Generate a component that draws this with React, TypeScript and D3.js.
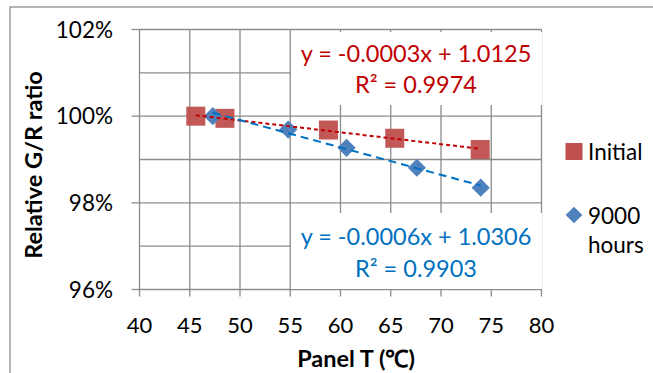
import React from 'react';
import * as d3 from 'd3';

// panel temperature (°C) and relative G/R ratio
const initialTemps = [45.6, 48.5, 58.8, 65.4, 73.9];
const initialRatios = [1.0, 0.9995, 0.9968, 0.9949, 0.9923];
const hoursTemps = [47.3, 54.8, 60.6, 67.6, 73.95];
const hoursRatios = [1.0, 0.9969, 0.9927, 0.9881, 0.9835];

const xTicks = [40, 45, 50, 55, 60, 65, 70, 75, 80];
const yMajorTicks = [0.96, 0.98, 1.0, 1.02];
const yGridTicks = [0.96, 0.97, 0.98, 0.99, 1.0, 1.01, 1.02];

const initialEquation = ['y = -0.0003x + 1.0125', 'R² = 0.9974'];
const hoursEquation = ['y = -0.0006x + 1.0306', 'R² = 0.9903'];

const FONT = 'Lato, "Open Sans", sans-serif';
const GRID = '#8c8c8c';
const RED_MARK = '#c0504d';
const BLUE_MARK = '#4f81bd';
const RED_LINE = '#c00000';
const BLUE_LINE = '#0070c0';

// least squares fit, same as excel's linear trendline
function fit(xs: number[], ys: number[]) {
  const mx = d3.mean(xs) as number;
  const my = d3.mean(ys) as number;
  let num = 0;
  let den = 0;
  xs.forEach((x, i) => {
    num += (x - mx) * (ys[i] - my);
    den += (x - mx) * (x - mx);
  });
  const slope = num / den;
  return { slope, intercept: my - slope * mx };
}

export default function App() {
  const width = 653;
  const height = 373;
  const left = 139.5;
  const right = 541.5;
  const top = 29.5;
  const bottom = 289.5;

  const x = d3.scaleLinear().domain([40, 80]).range([left, right]);
  const y = d3.scaleLinear().domain([0.96, 1.02]).range([bottom, top]);

  const line = d3.line<[number, number]>()
    .x(d => x(d[0]))
    .y(d => y(d[1]));

  const trend = (xs: number[], ys: number[]) => {
    const { slope, intercept } = fit(xs, ys);
    const [x0, x1] = d3.extent(xs) as [number, number];
    return line([[x0, intercept + slope * x0], [x1, intercept + slope * x1]]) as string;
  };

  const diamond = d3.symbol().type(d3.symbolSquare).size(165)() as string;

  return (
    <svg
      width={width}
      height={height}
      style={{ position: 'absolute', left: 0, top: 0, background: '#fff' }}
      fontFamily={FONT}
    >
      <rect x={10} y={7} width={660} height={380} fill="#fff" stroke={GRID} strokeWidth={1.3} />

      {/* grid */}
      {yGridTicks.map(t => (
        <line key={`gy${t}`} x1={left} x2={right} y1={y(t)} y2={y(t)} stroke={GRID} strokeWidth={1.3} />
      ))}
      {xTicks.map(t => (
        <line key={`gx${t}`} x1={x(t)} x2={x(t)} y1={top} y2={bottom + 7} stroke={GRID} strokeWidth={1.3} />
      ))}
      {yMajorTicks.map(t => (
        <line key={`ty${t}`} x1={left - 8} x2={left} y1={y(t)} y2={y(t)} stroke={GRID} strokeWidth={1.3} />
      ))}

      {/* equation boxes cover the grid */}
      <rect x={291} y={32} width={251} height={73} fill="#fff" />
      <rect x={291} y={213} width={251} height={76} fill="#fff" />

      {/* tick labels */}
      {yMajorTicks.map(t => (
        <text key={`ly${t}`} x={113} y={y(t) + 8} textAnchor="end" fontSize={22.5} fill="#000">
          {`${Math.round(t * 100)}%`}
        </text>
      ))}
      {xTicks.map(t => (
        <text key={`lx${t}`} x={x(t)} y={333} textAnchor="middle" fontSize={22} fill="#000">
          {t}
        </text>
      ))}

      {/* axis titles */}
      <text x={356} y={366.5} textAnchor="middle" fontSize={23.5} fontWeight="bold" fill="#000">
        Panel T (℃)
      </text>
      <text
        transform="translate(41.5,165) rotate(-90)"
        textAnchor="middle"
        fontSize={23.5}
        fontWeight="bold"
        fill="#000"
      >
        Relative G/R ratio
      </text>

      {/* markers */}
      {initialTemps.map((t, i) => (
        <rect
          key={`i${i}`}
          x={x(t) - 9.5}
          y={y(initialRatios[i]) - 9.5}
          width={19}
          height={19}
          fill={RED_MARK}
          fillOpacity={0.95}
        />
      ))}
      {hoursTemps.map((t, i) => (
        <path
          key={`h${i}`}
          d={diamond}
          transform={`translate(${x(t)},${y(hoursRatios[i])}) rotate(45)`}
          fill={BLUE_MARK}
        />
      ))}

      {/* trendlines */}
      <path d={trend(initialTemps, initialRatios)} fill="none" stroke={RED_LINE} strokeWidth={2} strokeDasharray="4 3" />
      <path d={trend(hoursTemps, hoursRatios)} fill="none" stroke={BLUE_LINE} strokeWidth={2} strokeDasharray="8 5" />

      {/* equations */}
      {initialEquation.map((s, i) => (
        <text key={`ei${i}`} x={416} y={62 + i * 30.5} textAnchor="middle" fontSize={23.5} fill={RED_LINE}>
          {s}
        </text>
      ))}
      {hoursEquation.map((s, i) => (
        <text key={`eh${i}`} x={416} y={245 + i * 31.5} textAnchor="middle" fontSize={23.5} fill={BLUE_LINE}>
          {s}
        </text>
      ))}

      {/* legend */}
      <rect x={565.5} y={143} width={17} height={17} fill={RED_MARK} />
      <text x={588} y={159.5} fontSize={22.5} fill="#000">Initial</text>
      <path
        d={d3.symbol().type(d3.symbolSquare).size(140)() as string}
        transform="translate(574,215) rotate(45)"
        fill={BLUE_MARK}
      />
      <text x={588} y={224} fontSize={22.5} fill="#000">9000</text>
      <text x={588} y={253} fontSize={22.5} fill="#000">hours</text>
    </svg>
  );
}
